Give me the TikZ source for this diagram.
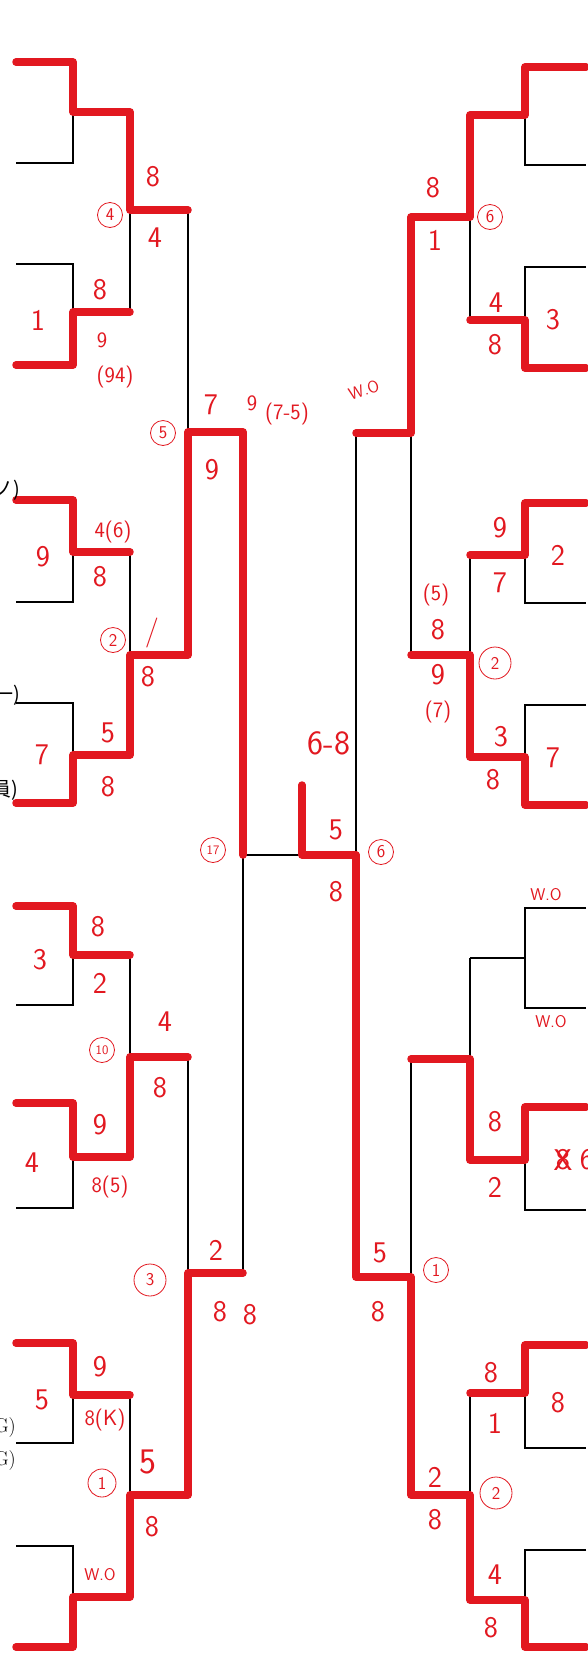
\documentclass[tikz,border=0pt]{standalone}
\usepackage{fontspec}
\newfontfamily\cjk{Noto Sans CJK JP}
\definecolor{pen}{RGB}{226,24,32}
\begin{document}
\begin{tikzpicture}[x=1pt,y=-1pt,
  br/.style={line width=1.6pt,black},
  win/.style={line width=7.5pt,pen,line cap=round,line join=round},
  lab/.style={text=pen,font=\sffamily\fontsize{30}{30}\selectfont,inner sep=0pt},
  sm/.style={text=pen,font=\sffamily\fontsize{22}{22}\selectfont,inner sep=0pt},
  tiny/.style={text=pen,font=\sffamily\fontsize{17}{17}\selectfont,inner sep=0pt},
  circ/.style={circle,draw=pen,line width=0.8pt,text=pen,font=\sffamily\fontsize{18}{18}\selectfont,inner sep=1pt,minimum size=25pt},
  cut/.style={font=\cjk\fontsize{20}{20}\selectfont,anchor=east,inner sep=0pt}]
\useasboundingbox[fill=white] (0,0) rectangle (588,1663);

% ---------- left side coordinates ----------
\foreach \i/\y in {1/62,2/163,3/264,4/365,5/500,6/602,7/703,8/803,9/906,10/1005,11/1103,12/1208,13/1343,14/1443,15/1546,16/1647}{
  \coordinate (le\i) at (16,\y); \coordinate (lk\i) at (73,\y);}
\foreach \j/\y in {1/112,2/312,3/552,4/755,5/955,6/1157,7/1395,8/1597}{
  \coordinate (lm\j) at (73,\y); \coordinate (ln\j) at (130,\y);}
\foreach \k/\y in {1/210,2/655,3/1057,4/1495}{
  \coordinate (lp\k) at (130,\y); \coordinate (lq\k) at (188,\y);}
\coordinate (lr1) at (188,432); \coordinate (ls1) at (243,432);
\coordinate (lr2) at (188,1273); \coordinate (ls2) at (243,1273);
\coordinate (lt) at (243,855);

% ---------- right side coordinates ----------
\foreach \i/\y in {1/67,2/165,3/267,4/368,5/503,6/603,7/705,8/805,9/908,10/1008,11/1107,12/1210,13/1345,14/1448,15/1550,16/1647}{
  \coordinate (re\i) at (586,\y); \coordinate (rk\i) at (525,\y);}
\foreach \j/\y in {1/115,2/320,3/555,4/757,5/958,6/1160,7/1393,8/1600}{
  \coordinate (rm\j) at (525,\y); \coordinate (rn\j) at (470,\y);}
\foreach \k/\y in {1/217,2/655,3/1059,4/1495}{
  \coordinate (rp\k) at (470,\y); \coordinate (rq\k) at (411,\y);}
\coordinate (rr1) at (411,433); \coordinate (rs1) at (356,433);
\coordinate (rr2) at (411,1277); \coordinate (rs2) at (356,1277);
\coordinate (rt) at (356,855);
\coordinate (champ) at (302,785); \coordinate (champk) at (302,855);

% ---------- black bracket ----------
\foreach \s in {l,r}{
  \foreach \a/\b/\m in {1/2/1,3/4/2,5/6/3,7/8/4,9/10/5,11/12/6,13/14/7,15/16/8}{
    \draw[br] (\s e\a) -- (\s k\a) -- (\s k\b) -- (\s e\b);
    \draw[br] (\s m\m) -- (\s n\m);}
  \foreach \a/\b/\m in {1/2/1,3/4/2,5/6/3,7/8/4}{
    \draw[br] (\s n\a) -- (\s n\b);
    \draw[br] (\s p\m) -- (\s q\m);}
  \draw[br] (\s q1) -- (\s q2); \draw[br] (\s r1) -- (\s s1);
  \draw[br] (\s q3) -- (\s q4); \draw[br] (\s r2) -- (\s s2);
  \draw[br] (\s s1) -- (\s s2);
}
\draw[br] (lt) -- (rt);

% ---------- red winner paths, left ----------
\draw[win] (le1) -- (lk1) -- (lm1) -- (ln1) -- (lp1) -- (lq1);
\draw[win] (le4) -- (lk4) -- (lm2) -- (ln2);
\draw[win] (le5) -- (lk5) -- (lm3) -- (ln3);
\draw[win] (le8) -- (lk8) -- (lm4) -- (ln4) -- (lp2) -- (lq2) -- (lr1) -- (ls1) -- (lt);
\draw[win] (le9) -- (lk9) -- (lm5) -- (ln5);
\draw[win] (le11) -- (lk11) -- (lm6) -- (ln6) -- (lp3) -- (lq3);
\draw[win] (le13) -- (lk13) -- (lm7) -- (ln7);
\draw[win] (le16) -- (lk16) -- (lm8) -- (ln8) -- (lp4) -- (lq4) -- (lr2) -- (ls2);

% ---------- red winner paths, right ----------
\draw[win] (re1) -- (rk1) -- (rm1) -- (rn1) -- (rp1) -- (rq1) -- (rr1) -- (rs1);
\draw[win] (re4) -- (rk4) -- (rm2) -- (rn2);
\draw[win] (re5) -- (rk5) -- (rm3) -- (rn3);
\draw[win] (re8) -- (rk8) -- (rm4) -- (rn4) -- (rp2) -- (rq2);
\draw[win] (re11) -- (rk11) -- (rm6) -- (rn6) -- (rp3) -- (rq3);
\draw[win] (re13) -- (rk13) -- (rm7) -- (rn7);
\draw[win] (re16) -- (rk16) -- (rm8) -- (rn8) -- (rp4) -- (rq4) -- (rr2) -- (rs2) -- (rt);
\draw[win] (champ) -- (champk) -- (rt);

% ---------- clipped names at left edge ----------
\node[cut] (n1) at (20,490) {ノ)};
\node[cut] (n2) at (20,695) {一)};
\node[cut] (n3) at (18,790) {員)};
\node[cut,font=\rmfamily\fontsize{20}{20}\selectfont] (n4) at (16,1427) {G)};
\node[cut,font=\rmfamily\fontsize{20}{20}\selectfont] (n5) at (16,1460) {G)};

% ---------- labels, left ----------
\node[lab] (a1) at (153,177) {8};
\node[circ] (a2) at (110,215) {4};
\node[lab] (a3) at (155,238) {4};
\node[lab] (a4) at (100,290) {8};
\node[lab] (a5) at (38,320) {1};
\node[sm] (a6) at (102,340) {9};
\node[sm] (a7) at (115,377) {(94)};
\node[lab] (a8) at (211,405) {7};
\node[sm] (a9) at (252,403) {9};
\node[sm] (a10) at (287,414) {(7-5)};
\node[circ] (a11) at (163,433) {5};
\node[lab] (a12) at (212,470) {9};
\node[lab] (a13) at (43,557) {9};
\node[sm] (a14) at (113,532) {4(6)};
\node[lab] (a15) at (100,577) {8};
\node[lab] (a16) at (152,633) {/};
\node[circ] (a17) at (113,640) {2};
\node[lab] (a18) at (148,677) {8};
\node[lab] (a19) at (108,733) {5};
\node[lab] (a20) at (42,755) {7};
\node[lab] (a21) at (108,787) {8};
\node[circ,font=\sffamily\fontsize{13}{13}\selectfont] (a22) at (213,850) {17};
\node[lab] (a23) at (98,927) {8};
\node[lab] (a24) at (40,960) {3};
\node[lab] (a25) at (100,983) {2};
\node[lab] (a26) at (165,1022) {4};
\node[circ,font=\sffamily\fontsize{13}{13}\selectfont] (a27) at (102,1050) {10};
\node[lab] (a28) at (160,1088) {8};
\node[lab] (a29) at (100,1125) {9};
\node[lab] (a30) at (32,1163) {4};
\node[sm] (a31) at (110,1187) {8(5)};
\node[lab] (a32) at (216,1250) {2};
\node[circ,minimum size=32pt] (a33) at (150,1280) {3};
\node[lab] (a34) at (220,1312) {8};
\node[lab] (a35) at (250,1315) {8};
\node[lab] (a36) at (100,1367) {9};
\node[lab] (a37) at (42,1400) {5};
\node[sm] (a38) at (105,1420) {8(K)};
\node[lab,font=\sffamily\fontsize{36}{36}\selectfont] (a39) at (148,1462) {5};
\node[circ,minimum size=28pt] (a40) at (102,1483) {1};
\node[lab] (a41) at (152,1527) {8};
\node[tiny] (a42) at (100,1575) {W.O};

% ---------- centre ----------
\node[lab,font=\sffamily\fontsize{34}{34}\selectfont] (c1) at (329,743) {6-8};
\node[lab] (c2) at (336,830) {5};
\node[circ] (c3) at (381,852) {6};
\node[lab] (c4) at (336,892) {8};

% ---------- labels, right ----------
\node[lab] (b1) at (433,188) {8};
\node[circ] (b2) at (490,217) {6};
\node[lab] (b3) at (435,240) {1};
\node[lab] (b4) at (496,303) {4};
\node[lab] (b5) at (553,320) {3};
\node[lab] (b6) at (495,345) {8};
\node[tiny,rotate=18] (b7) at (364,390) {W.O};
\node[lab] (b8) at (500,528) {9};
\node[lab] (b9) at (558,555) {2};
\node[lab] (b10) at (500,583) {7};
\node[sm] (b11) at (436,595) {(5)};
\node[lab] (b12) at (438,630) {8};
\node[circ,minimum size=32pt] (b13) at (495,663) {2};
\node[lab] (b14) at (438,675) {9};
\node[sm] (b15) at (438,712) {(7)};
\node[lab] (b16) at (501,737) {3};
\node[lab] (b17) at (553,758) {7};
\node[lab] (b18) at (493,780) {8};
\node[tiny] (b19) at (546,895) {W.O};
\node[tiny] (b20) at (551,1022) {W.O};
\node[lab] (b21) at (495,1122) {8};
\node[lab] (b22) at (563,1160) {8};
\node[lab] (b23) at (563,1160) {X};
\node[lab] (b24) at (587,1160) {6};
\node[lab] (b25) at (495,1187) {2};
\node[lab] (b26) at (380,1253) {5};
\node[circ] (b27) at (436,1270) {1};
\node[lab] (b28) at (378,1312) {8};
\node[lab] (b29) at (491,1373) {8};
\node[lab] (b30) at (558,1403) {8};
\node[lab] (b31) at (495,1423) {1};
\node[lab] (b32) at (435,1477) {2};
\node[circ,minimum size=32pt] (b33) at (496,1493) {2};
\node[lab] (b34) at (435,1520) {8};
\node[lab] (b35) at (495,1575) {4};
\node[lab] (b36) at (491,1628) {8};
\end{tikzpicture}
\end{document}
